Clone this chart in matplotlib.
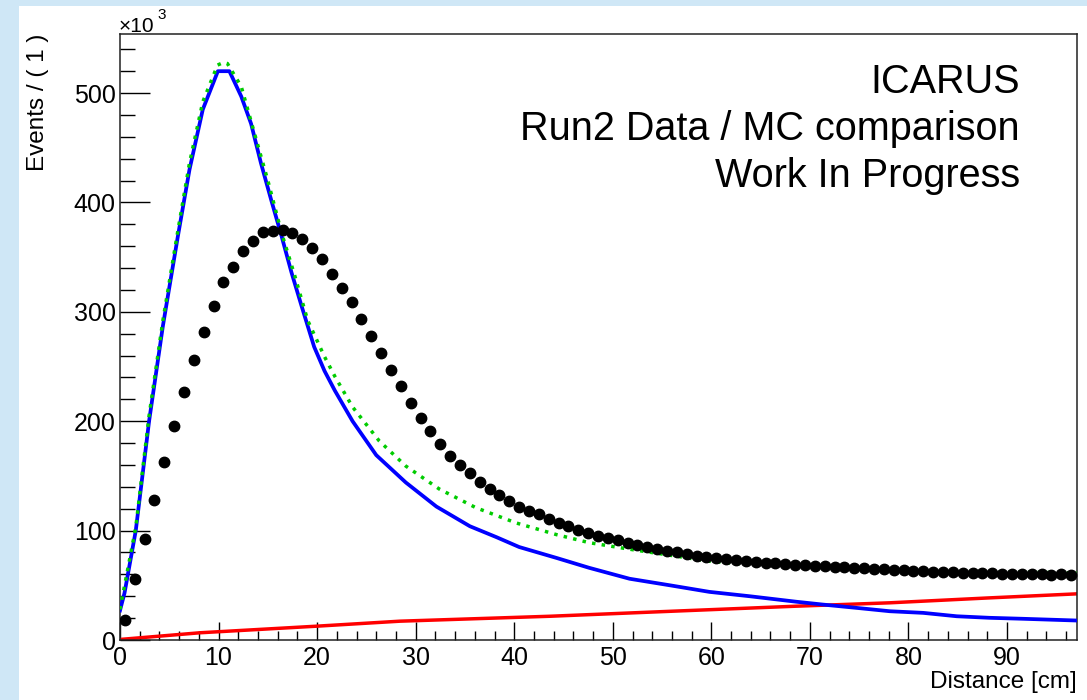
import numpy as np
import matplotlib
matplotlib.use('Agg')
import matplotlib.pyplot as plt
from matplotlib.patches import Rectangle
from matplotlib.ticker import MultipleLocator

plt.rcParams['font.family'] = ['Liberation Sans', 'DejaVu Sans']

# data points (bin centres, events in units of 10^3)
data_x = np.arange(97) + 0.5
data_y = [18, 56, 92, 128, 163, 196, 227, 256, 282, 305,
          327, 341, 356, 365, 373, 374, 375, 372, 367, 358,
          348, 335, 322, 309, 293, 278, 262, 247, 232, 217,
          203, 191, 179, 168, 160, 153, 144, 138, 133, 127,
          122, 118, 115, 111, 107, 104, 101, 98, 95.5, 93,
          91, 89, 87, 85, 83, 81.5, 80, 78.5, 77, 76,
          75, 74, 73, 72, 71.3, 70.5, 70, 69.3, 68.8, 68.3,
          67.8, 67.3, 66.9, 66.5, 66, 65.5, 65, 64.7, 64.3, 63.8,
          63.3, 63, 62.6, 62.3, 62, 61.6, 61.3, 61, 60.8, 60.5,
          60.3, 60.2, 60, 60.2, 59.8, 60, 59.8]

# blue MC curve
blue_x = [0, 0.46, 1.6, 2.95, 4.35, 5.87, 7.05, 8.4, 9.93, 11.1,
          12.3, 13.3, 14.3, 15.35, 16.4, 17.4, 18.4, 19.7, 20.75, 21.8,
          23.6, 26, 29, 32.1, 35.5, 38.2, 40.5, 44.3, 47.6, 51.7,
          55.8, 59.8, 63.9, 68.6, 71.3, 74.7, 78.1, 81.5, 84.9, 88.2,
          91.6, 97.1]
blue_y = [27, 43, 100, 200, 287, 369, 430, 485, 520, 520,
          497, 472, 436, 402, 369, 336, 306, 268, 246, 228,
          200, 169, 144, 122, 104, 94, 85, 75, 66, 56,
          50, 44, 40, 35, 32.4, 29.4, 26.3, 24.8, 21.7, 20.3,
          19.4, 17.8]

# green dotted MC curve
green_x = [0, 1.6, 2.95, 4.35, 5.87, 7.05, 8.4, 9.9, 10.5, 10.9,
           12.3, 13.65, 15, 16.4, 17.7, 19.05, 20.75, 21.8, 23.6, 26.3,
           29, 32.4, 36.1, 40.2, 44.3, 47.6, 51.7, 55.8, 59.8, 63.9,
           68.6, 74.7, 81.5, 88.2, 97.1]
green_y = [28, 103, 205, 292, 374, 436, 492, 525.6, 528, 527,
           506, 463, 420, 372, 334, 292, 259, 241, 213, 182,
           159, 138, 121, 107, 96.3, 89, 83, 77.5, 72, 69,
           67, 65.5, 63.7, 62.3, 61.4]

# red background curve
red_x = [0, 8.1, 19.9, 28.4, 43.6, 56, 68.6, 78.1, 88.2, 97.1]
red_y = [0.5, 6.6, 12.6, 17.2, 21.7, 26.3, 30.9, 34, 38.5, 42.2]

W, H = 1087, 700
fig = plt.figure(figsize=(W / 100, H / 100), dpi=100)
fig.patch.set_facecolor('#cfe7f6')
fig.patches.append(Rectangle((19 / W, 0), 1 - 19 / W, 1 - 6 / H,
                             transform=fig.transFigure, facecolor='white',
                             edgecolor='none', zorder=-5))


def px(x, y):
    return x / W, 1 - y / H


ax = fig.add_axes([120 / W, 60 / H, 957 / W, 606 / H])
ax.set_facecolor('white')

ax.plot(red_x, red_y, color='#ff0000', lw=2.5, zorder=2)
ax.plot(blue_x, blue_y, color='#0000ff', lw=2.7, zorder=3)
ax.plot(green_x, green_y, color='#00cc00', lw=2.5, ls=(0, (1, 1.8)), zorder=4)
ax.errorbar(data_x, data_y, xerr=0.5, fmt='o', color='black', ms=7.5,
            elinewidth=1.2, capsize=0, zorder=5)

ax.set_xlim(0, 97.1)
ax.set_ylim(0, 554)
ax.xaxis.set_major_locator(MultipleLocator(10))
ax.xaxis.set_minor_locator(MultipleLocator(2))
ax.yaxis.set_major_locator(MultipleLocator(100))
ax.yaxis.set_minor_locator(MultipleLocator(20))
ax.tick_params(axis='x', which='major', direction='in', length=13, width=1,
               labelsize=18, pad=4)
ax.tick_params(axis='x', which='minor', direction='in', length=6.5, width=1)
ax.tick_params(axis='y', which='major', direction='in', length=21.5, width=1,
               labelsize=18, pad=3)
ax.tick_params(axis='y', which='minor', direction='in', length=11, width=1)
for s in ax.spines.values():
    s.set_linewidth(1.1)
    s.set_color('#222222')

fig.text(*px(1077, 688), 'Distance [cm]', ha='right', va='baseline', fontsize=17.5)
fig.text(*px(38, 34), 'Events / ( 1 )', rotation=90, ha='center', va='top',
         fontsize=17.5)
fig.text(*px(119, 32), '×10', ha='left', va='baseline', fontsize=15)
fig.text(*px(157, 19), '3', ha='left', va='baseline', fontsize=11)

fig.text(*px(1020, 93), 'ICARUS', ha='right', va='baseline', fontsize=28.5)
fig.text(*px(1020, 140), 'Run2 Data / MC comparison', ha='right',
         va='baseline', fontsize=28.5)
fig.text(*px(1020, 187), 'Work In Progress', ha='right', va='baseline',
         fontsize=28.5)

fig.savefig('out.png', dpi=100, facecolor=fig.get_facecolor())
